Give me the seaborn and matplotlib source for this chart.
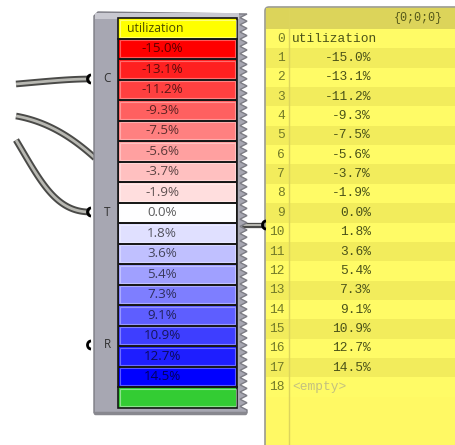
import matplotlib
matplotlib.use('Agg')
import matplotlib.pyplot as plt
import numpy as np
import seaborn as sns
from matplotlib.colors import LinearSegmentedColormap
from matplotlib.patches import Polygon, Rectangle, FancyBboxPatch, Arc

# data
header = 'utilization'
values = [-15.0, -13.1, -11.2, -9.3, -7.5, -5.6, -3.7, -1.9, 0.0,
          1.8, 3.6, 5.4, 7.3, 9.1, 10.9, 12.7, 14.5]
inputs = ['C', 'T', 'R']
path_label = '{0;0;0}'

sns.set_theme(style='white')
plt.rcParams['font.family'] = ['Open Sans', 'DejaVu Sans']

W, H = 455, 445
fig = plt.figure(figsize=(W / 100, H / 100), dpi=100)
ax = fig.add_axes([0, 0, 1, 1])
ax.set_xlim(0, W)
ax.set_ylim(H, 0)
ax.axis('off')

# layout (pixels)
cell_x0, cell_x1 = 118, 237
cell_top, pitch = 18, 20.5
text_x = 162
n_rows = len(values) + 2

# --- wires on the left
def bez(p0, p1, p2, p3, n=60):
    t = np.linspace(0, 1, n)[:, None]
    pts = ((1 - t) ** 3 * np.array(p0) + 3 * (1 - t) ** 2 * t * np.array(p1)
           + 3 * (1 - t) * t ** 2 * np.array(p2) + t ** 3 * np.array(p3))
    return pts[:, 0], pts[:, 1]

wires = [((16, 84), (50, 81), (70, 79), (90, 79)),
         ((16, 116), (50, 122), (75, 140), (95, 158)),
         ((16, 140), (40, 180), (55, 212), (90, 212))]
for w in wires:
    xs, ys = bez(*w)
    ax.plot(xs, ys, color='#4a4a48', lw=4.8, solid_capstyle='butt', zorder=1)
    ax.plot(xs, ys, color='#b8b8b2', lw=2.0, solid_capstyle='butt', zorder=1.1)

# --- component body with jagged right edge
body_top, body_bot = 12, 413
right = [(247 if k % 2 == 0 else 240, y) for k, y in enumerate(np.arange(body_top + 2, body_bot, 3.6))]
poly = [(94, body_bot), (94, body_top + 4), (98, body_top)] + right + [(247, body_bot)]
ax.add_patch(Polygon(poly, closed=True, facecolor='#a7a7b2', edgecolor='#7c7c84', lw=1.0, zorder=2))
ax.add_patch(Rectangle((95, body_top + 1), 144, 6, facecolor='#c9c9d1', edgecolor='none', zorder=2.1))
ax.plot([95, 245], [body_bot, body_bot], color='#88888f', lw=2.5, zorder=2.2)

# input grips and labels
for name, gy in zip(inputs, [79, 212, 345]):
    ax.add_patch(Arc((91, gy), 7, 8, theta1=90, theta2=270, color='black', lw=2, zorder=3))
    ax.text(107, gy, name, ha='center', va='center', fontsize=8.5, color='#303030', zorder=3)

# output wire into the panel
ax.plot([244, 263], [225, 225], color='#4a4a48', lw=3.8, zorder=1)
ax.plot([244, 263], [225, 225], color='#b8b8b2', lw=1.4, zorder=1.1)
ax.add_patch(Arc((266, 225), 7, 8, theta1=90, theta2=270, color='black', lw=2, zorder=6))

# header and empty (green) cells
def cell(i, face):
    y0 = cell_top + i * pitch
    ax.add_patch(Rectangle((cell_x0, y0), cell_x1 - cell_x0, pitch, facecolor=face,
                           edgecolor='#161616', lw=1.2, zorder=3))
    ax.add_patch(Rectangle((cell_x0 + 1.5, y0 + 1.5), cell_x1 - cell_x0 - 3, pitch - 3,
                           facecolor='none', edgecolor='white', alpha=0.45, lw=0.8, zorder=3.1))

cell(0, '#ffff00')
ax.text(cell_x0 + 9, cell_top + pitch / 2, header, ha='left', va='center',
        fontsize=8.8, color='#4b4b00', zorder=4)
cell(n_rows - 1, '#33cc33')

# --- colour swatches through seaborn heatmap
vals = np.array(values)
scaled = np.where(vals < 0, vals / abs(vals.min()), vals / vals.max())
cmap = LinearSegmentedColormap.from_list('rwb', ['#ff0000', '#ffffff', '#0000ff'])
labels = np.array([f'{v:.1f}%' for v in values]).reshape(-1, 1)

hy0 = cell_top + pitch
hax = fig.add_axes([cell_x0 / W, 1 - (hy0 + len(values) * pitch) / H,
                    (cell_x1 - cell_x0) / W, len(values) * pitch / H])
sns.heatmap(scaled.reshape(-1, 1), ax=hax, cmap=cmap, vmin=-1, vmax=1, cbar=False,
            annot=labels, fmt='', linewidths=1.2, linecolor='#161616',
            xticklabels=False, yticklabels=False,
            annot_kws={'fontsize': 9.6, 'family': ['Open Sans', 'DejaVu Sans']})
for t, s in zip(hax.texts, scaled):
    c = np.array(cmap((s + 1) / 2)[:3])
    t.set_color(c * 0.36)
    t.set_x((text_x - cell_x0) / (cell_x1 - cell_x0))
for j in range(len(values)):
    hax.add_patch(Rectangle((0.02, j + 0.08), 0.96, 0.84, fill=False, edgecolor='white',
                            alpha=0.35, lw=0.8))
for sp in hax.spines.values():
    sp.set_visible(True)
    sp.set_color('#161616')
    sp.set_linewidth(1.2)

# --- yellow panel on the right
px0, py0 = 265, 7
ax.add_patch(FancyBboxPatch((px0, py0), 200, 450, boxstyle='round,pad=0,rounding_size=4',
                            facecolor='#fff964', edgecolor='#9a9a90', lw=1.2, zorder=4))
ax.add_patch(Rectangle((px0 + 1, py0 + 1), 200, 21, facecolor='#dcd45a', edgecolor='none', zorder=4.1))
row0, rpitch = 29, 19.35
idx = np.arange(n_rows)
stripe = ['#fffb66' if i % 2 == 0 else '#f2ec5c' for i in idx]
ax.barh(row0 + idx * rpitch + rpitch / 2, 200, left=px0 + 1, height=rpitch,
        color=stripe, edgecolor='none', zorder=4.2)
ax.plot([289, 289], [py0 + 1, H], color='#ddd55c', lw=1, zorder=4.3)
ax.text(443, 18, path_label, ha='right', va='center', fontsize=8.5,
        family='Liberation Mono', color='#55581a', zorder=5)

mono = dict(family='Liberation Mono', fontsize=9.3, va='center', zorder=5)
for i in idx:
    yc = row0 + i * rpitch + rpitch / 2
    ax.text(285, yc, str(i), ha='right', color='#737a28', **mono)
    if i == 0:
        ax.text(292, yc, header, ha='left', color='#4a5218', **mono)
    elif i <= len(values):
        ax.text(371, yc, f'{values[i - 1]:.1f}%', ha='right', color='#4a5218', **mono)
    else:
        ax.text(292, yc, '<empty>', ha='left', color='#c2c080', **mono)

fig.savefig('out.png', dpi=100)
